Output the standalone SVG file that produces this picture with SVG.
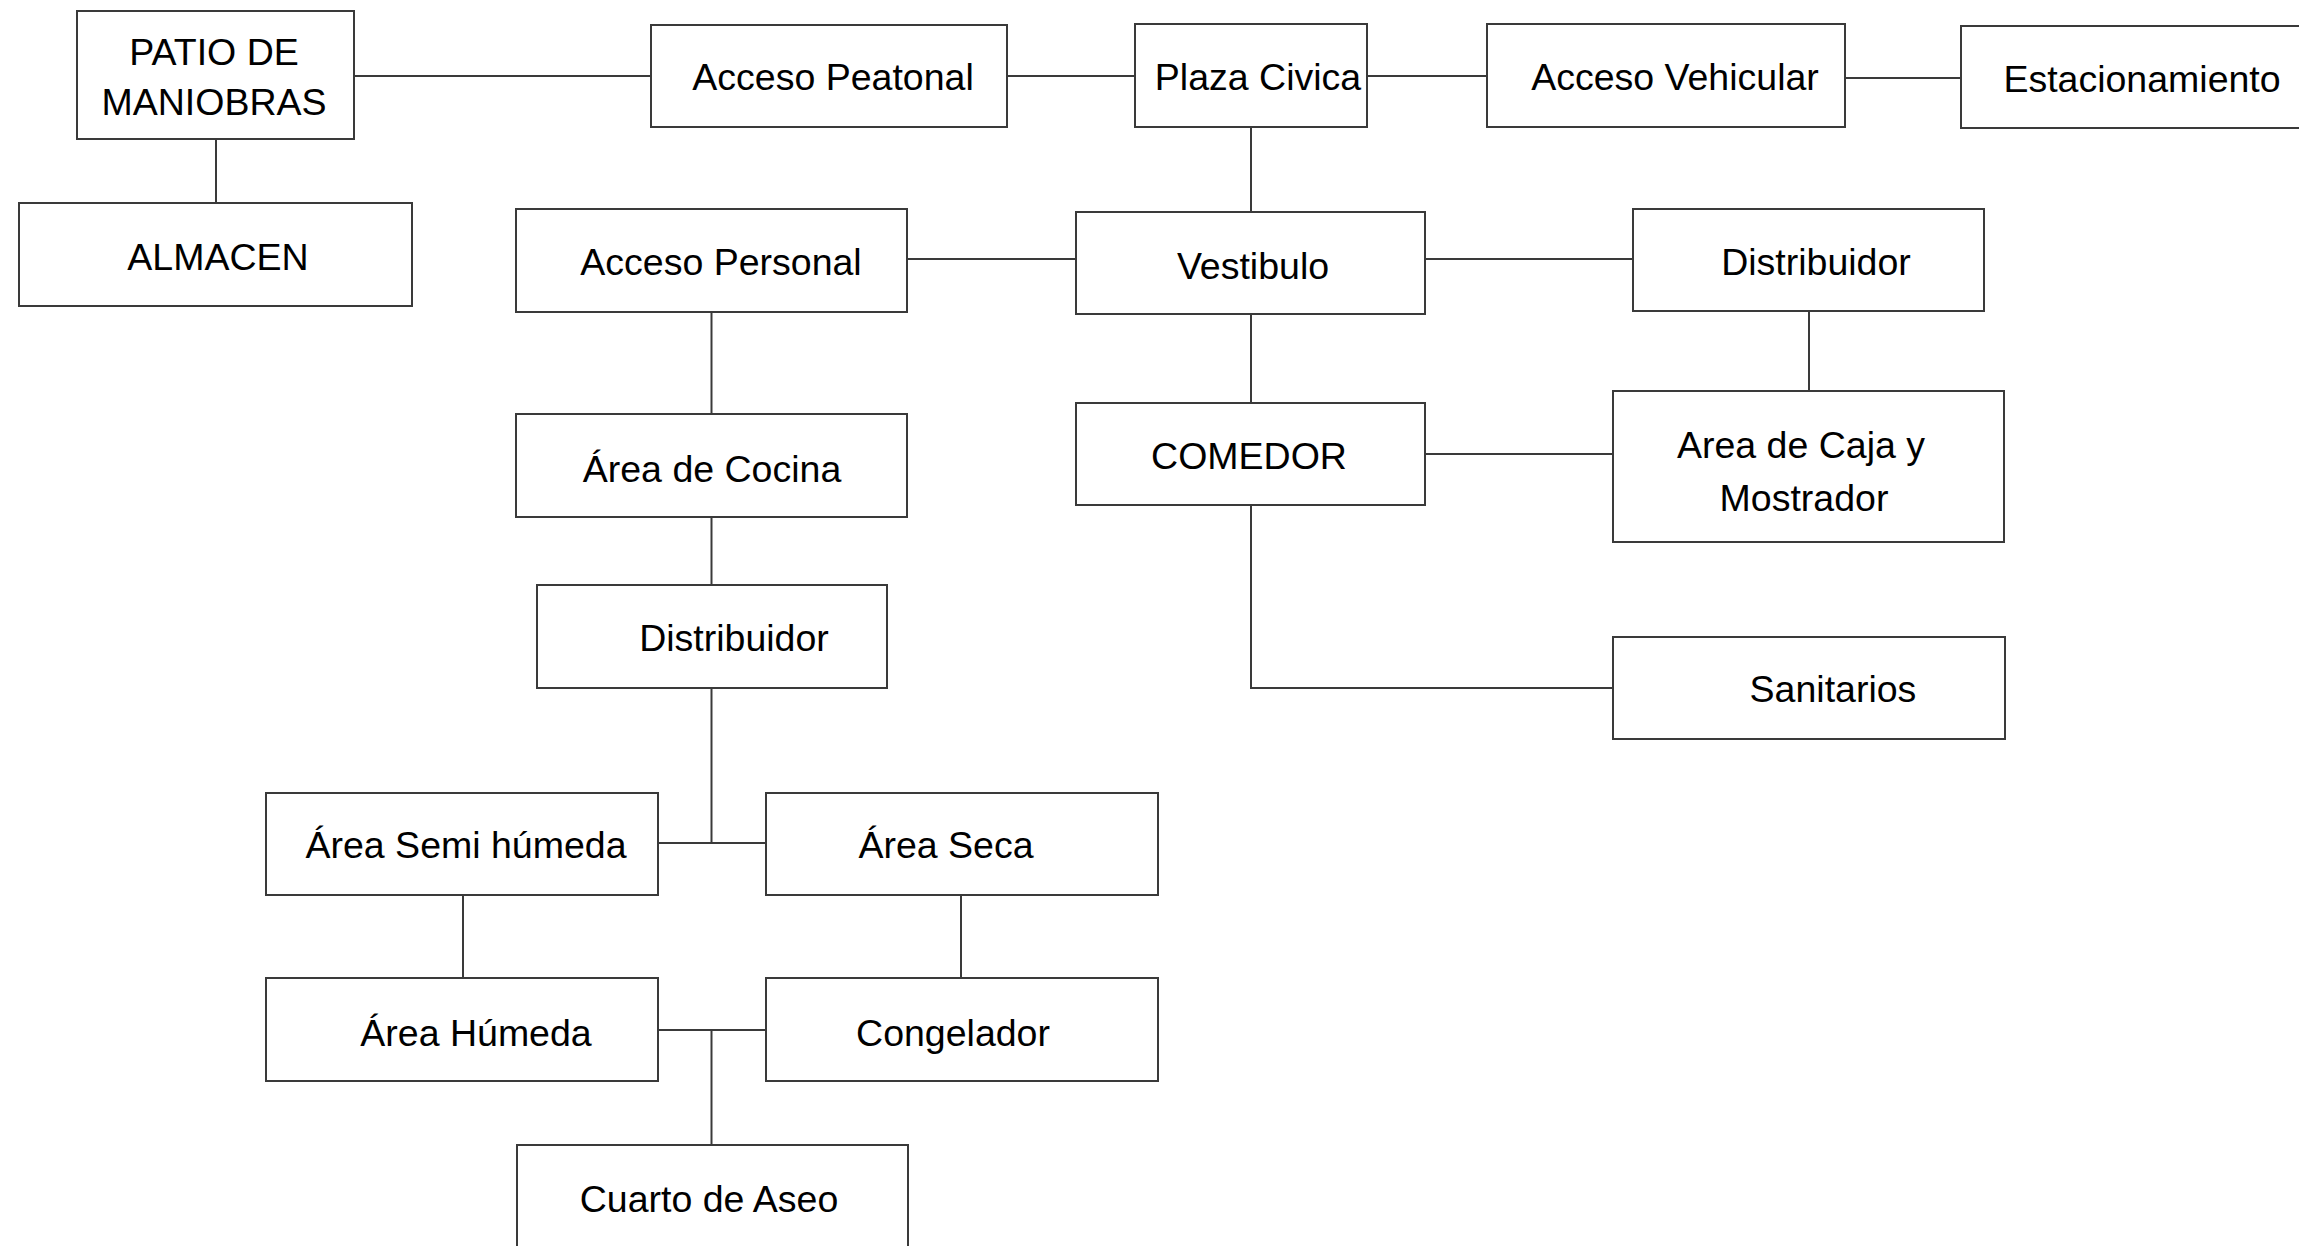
<svg xmlns="http://www.w3.org/2000/svg" width="2299" height="1246" viewBox="0 0 2299 1246">
<style>
  .box { fill: #ffffff; stroke: #3a3a3a; stroke-width: 2; }
  .lbl { font-family: "Liberation Sans", Arial, sans-serif; font-size: 37.5px; fill: #000000; text-anchor: middle; }
  .conn { fill: none; stroke: #3a3a3a; stroke-width: 2; }
</style>
<rect x="0" y="0" width="2299" height="1246" fill="#ffffff"/>

<g id="connectors">
  <line class="conn" x1="354" y1="76" x2="651" y2="76"/>
  <line class="conn" x1="216" y1="139" x2="216" y2="203"/>
  <line class="conn" x1="1007" y1="76" x2="1135" y2="76"/>
  <line class="conn" x1="1367" y1="76" x2="1487" y2="76"/>
  <line class="conn" x1="1845" y1="78" x2="1961" y2="78"/>
  <line class="conn" x1="1251" y1="127" x2="1251" y2="212"/>
  <line class="conn" x1="907" y1="259" x2="1076" y2="259"/>
  <line class="conn" x1="1425" y1="259" x2="1633" y2="259"/>
  <line class="conn" x1="1809" y1="311" x2="1809" y2="391"/>
  <line class="conn" x1="1251" y1="314" x2="1251" y2="403"/>
  <line class="conn" x1="1425" y1="454" x2="1613" y2="454"/>
  <polyline class="conn" points="1251,505 1251,688 1613,688"/>
  <line class="conn" x1="711.5" y1="312" x2="711.5" y2="414"/>
  <line class="conn" x1="711.5" y1="517" x2="711.5" y2="585"/>
  <line class="conn" x1="711.5" y1="688" x2="711.5" y2="843"/>
  <line class="conn" x1="658" y1="843" x2="766" y2="843"/>
  <line class="conn" x1="463" y1="895" x2="463" y2="978"/>
  <line class="conn" x1="961" y1="895" x2="961" y2="978"/>
  <line class="conn" x1="658" y1="1030" x2="766" y2="1030"/>
  <line class="conn" x1="711.5" y1="1030" x2="711.5" y2="1145"/>
</g>

<g id="patio">
  <rect class="box" x="77" y="11" width="277" height="128"/>
  <text class="lbl" x="214" y="65">PATIO DE</text>
  <text class="lbl" x="214" y="115">MANIOBRAS</text>
</g>
<g id="almacen">
  <rect class="box" x="19" y="203" width="393" height="103"/>
  <text class="lbl" x="218" y="270">ALMACEN</text>
</g>
<g id="acceso-peatonal">
  <rect class="box" x="651" y="25" width="356" height="102"/>
  <text class="lbl" x="833" y="90">Acceso Peatonal</text>
</g>
<g id="plaza-civica">
  <rect class="box" x="1135" y="24" width="232" height="103"/>
  <text class="lbl" x="1258" y="90">Plaza Civica</text>
</g>
<g id="acceso-vehicular">
  <rect class="box" x="1487" y="24" width="358" height="103"/>
  <text class="lbl" x="1675" y="90">Acceso Vehicular</text>
</g>
<g id="estacionamiento">
  <rect class="box" x="1961" y="26" width="360" height="102"/>
  <text class="lbl" x="2142" y="92">Estacionamiento</text>
</g>
<g id="acceso-personal">
  <rect class="box" x="516" y="209" width="391" height="103"/>
  <text class="lbl" x="721" y="275">Acceso Personal</text>
</g>
<g id="vestibulo">
  <rect class="box" x="1076" y="212" width="349" height="102"/>
  <text class="lbl" x="1253" y="279">Vestibulo</text>
</g>
<g id="distribuidor-1">
  <rect class="box" x="1633" y="209" width="351" height="102"/>
  <text class="lbl" x="1816" y="275">Distribuidor</text>
</g>
<g id="area-cocina">
  <rect class="box" x="516" y="414" width="391" height="103"/>
  <text class="lbl" x="712" y="482">Área de Cocina</text>
</g>
<g id="comedor">
  <rect class="box" x="1076" y="403" width="349" height="102"/>
  <text class="lbl" x="1249" y="469">COMEDOR</text>
</g>
<g id="area-caja">
  <rect class="box" x="1613" y="391" width="391" height="151"/>
  <text class="lbl" x="1801" y="458">Area de Caja y</text>
  <text class="lbl" x="1804" y="511">Mostrador</text>
</g>
<g id="distribuidor-2">
  <rect class="box" x="537" y="585" width="350" height="103"/>
  <text class="lbl" x="734" y="651">Distribuidor</text>
</g>
<g id="sanitarios">
  <rect class="box" x="1613" y="637" width="392" height="102"/>
  <text class="lbl" x="1833" y="702">Sanitarios</text>
</g>
<g id="area-semi-humeda">
  <rect class="box" x="266" y="793" width="392" height="102"/>
  <text class="lbl" x="466" y="858">Área Semi húmeda</text>
</g>
<g id="area-seca">
  <rect class="box" x="766" y="793" width="392" height="102"/>
  <text class="lbl" x="946" y="858">Área Seca</text>
</g>
<g id="area-humeda">
  <rect class="box" x="266" y="978" width="392" height="103"/>
  <text class="lbl" x="476" y="1046">Área Húmeda</text>
</g>
<g id="congelador">
  <rect class="box" x="766" y="978" width="392" height="103"/>
  <text class="lbl" x="953" y="1046">Congelador</text>
</g>
<g id="cuarto-aseo">
  <rect class="box" x="517" y="1145" width="391" height="120"/>
  <text class="lbl" x="709" y="1212">Cuarto de Aseo</text>
</g>
</svg>
